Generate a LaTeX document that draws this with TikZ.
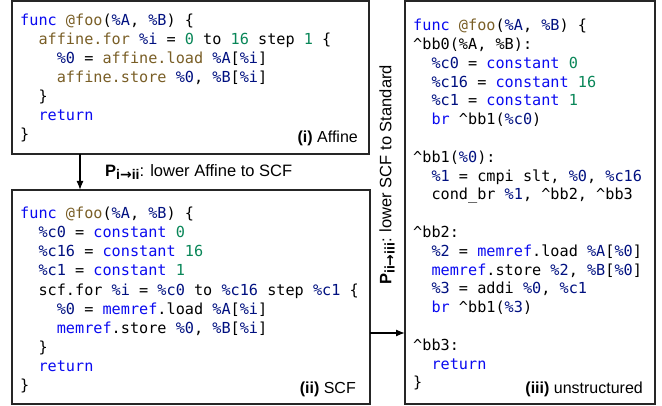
\documentclass[tikz,border=0pt]{standalone}
\usepackage{fontspec}
\setmainfont{Liberation Sans}
\newfontfamily\codefont{DejaVu Sans Mono}
\newfontfamily\arrowfont{DejaVu Sans}
\usetikzlibrary{arrows.meta}
\definecolor{kwblue}{RGB}{10,10,240}
\definecolor{varblue}{RGB}{0,16,128}
\definecolor{fnbrown}{RGB}{121,94,38}
\definecolor{numgreen}{RGB}{9,134,88}
\newcommand\ckw[1]{\textcolor{kwblue}{#1}}
\newcommand\cvar[1]{\textcolor{varblue}{#1}}
\newcommand\cfun[1]{\textcolor{fnbrown}{#1}}
\newcommand\cnum[1]{\textcolor{numgreen}{#1}}
\newcommand\tabin{\phantom{xx}}
\newcommand\bbref{\textasciicircum}
% P with a subscript like i->ii
\newcommand\passname[2]{\textbf{P\raisebox{-0.35ex}{\fontsize{14}{14}\selectfont #1{\arrowfont\bfseries→}#2}}}
\begin{document}
\begin{tikzpicture}[x=1pt,y=-1pt,
  irbox/.style={draw=black!85,line width=1.2pt,inner sep=0pt,outer sep=0pt},
  code/.style={anchor=north west,align=left,inner sep=0pt,font=\codefont\fontsize{15.2}{19.1}\selectfont},
  tag/.style={anchor=base east,inner sep=0pt,font=\fontsize{16}{18}\selectfont},
  pass/.style={-{Latex[length=9pt,width=7pt]},line width=1.3pt}]
\useasboundingbox (0,0) rectangle (662,406);
% boxes
\node[irbox,minimum width=357pt,minimum height=153pt] (boxi) at (190.5,77.5) {};
\node[irbox,minimum width=358pt,minimum height=214pt] (boxii) at (191,297) {};
\node[irbox,minimum width=250pt,minimum height=403pt] (boxiii) at (530,202.5) {};
% (i) affine
\node[code] (codei) at (20,11.6) {%
\strut\ckw{func} \cfun{@foo}(\cvar{\%A}, \cvar{\%B}) \{\\
\tabin\cfun{affine.for} \cvar{\%i} = \cnum{0} to \cnum{16} step \cnum{1} \{\\
\tabin\tabin\cvar{\%0} = \cfun{affine.load} \cvar{\%A}[\cvar{\%i}]\\
\tabin\tabin\cfun{affine.store} \cvar{\%0}, \cvar{\%B}[\cvar{\%i}]\\
\tabin\}\\
\tabin\ckw{return}\\
\}};
\node[tag] (tagi) at (358,142.5) {\textbf{(i)} Affine};
% (ii) scf
\node[code] (codeii) at (20,205.1) {%
\strut\ckw{func} \cfun{@foo}(\cvar{\%A}, \cvar{\%B}) \{\\
\tabin\cvar{\%c0} = \ckw{constant} \cnum{0}\\
\tabin\cvar{\%c16} = \ckw{constant} \cnum{16}\\
\tabin\cvar{\%c1} = \ckw{constant} \cnum{1}\\
\tabin scf.for \cvar{\%i} = \cvar{\%c0} to \cvar{\%c16} step \cvar{\%c1} \{\\
\tabin\tabin\cvar{\%0} = \ckw{memref}.load \cvar{\%A}[\cvar{\%i}]\\
\tabin\tabin\ckw{memref}.store \cvar{\%0}, \cvar{\%B}[\cvar{\%i}]\\
\tabin\}\\
\tabin\ckw{return}\\
\}};
\node[tag] (tagii) at (356,393.5) {\textbf{(ii)} SCF};
% (iii) unstructured
\node[code,font=\codefont\fontsize{15.2}{18.8}\selectfont] (codeiii) at (413,17.3) {%
\strut\ckw{func} \cfun{@foo}(\cvar{\%A}, \cvar{\%B}) \{\\
\bbref bb0(\%A, \%B):\\
\tabin\cvar{\%c0} = \ckw{constant} \cnum{0}\\
\tabin\cvar{\%c16} = \ckw{constant} \cnum{16}\\
\tabin\cvar{\%c1} = \ckw{constant} \cnum{1}\\
\tabin\ckw{br} \bbref bb1(\cvar{\%c0})\\
~\\
\bbref bb1(\cvar{\%0}):\\
\tabin\cvar{\%1} = cmpi slt, \cvar{\%0}, \cvar{\%c16}\\
\tabin cond\_br \cvar{\%1}, \bbref bb2, \bbref bb3\\
~\\
\bbref bb2:\\
\tabin\cvar{\%2} = \ckw{memref}.load \cvar{\%A}[\cvar{\%0}]\\
\tabin\ckw{memref}.store \cvar{\%2}, \cvar{\%B}[\cvar{\%0}]\\
\tabin\cvar{\%3} = addi \cvar{\%0}, \cvar{\%c1}\\
\tabin\ckw{br} \bbref bb1(\cvar{\%3})\\
~\\
\bbref bb3:\\
\tabin\ckw{return}\\
\}};
\node[tag] (tagiii) at (643,393.5) {\textbf{(iii)} unstructured};
% passes
\coordinate (ax) at (80,0);
\coordinate (ay) at (0,333);
\draw[pass] (boxi.south -| ax) -- (boxii.north -| ax);
\node[anchor=base west,inner sep=0pt,font=\fontsize{16.5}{18}\selectfont] (passi) at (105,176.5)
  {\passname{i}{ii}: lower Affine to SCF};
\draw[pass] (boxii.east |- ay) -- (boxiii.west |- ay);
\node[rotate=90,inner sep=0pt,font=\fontsize{16.5}{18}\selectfont] (passii) at (387,175)
  {\passname{ii}{iii}: lower SCF to Standard};
\end{tikzpicture}
\end{document}
